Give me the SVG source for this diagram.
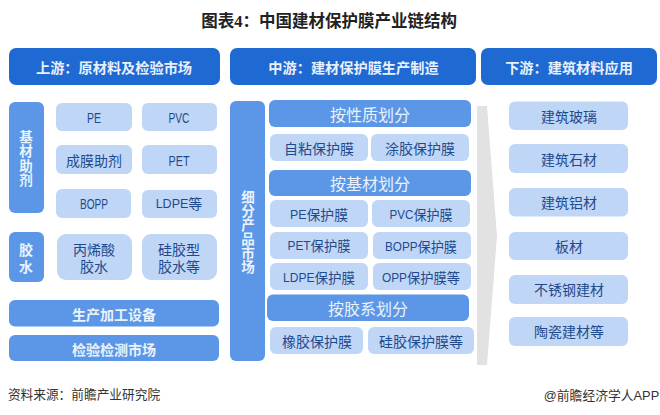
<svg xmlns="http://www.w3.org/2000/svg" width="660" height="415" viewBox="0 0 660 415">
<style>
text{font-family:"Liberation Sans","Noto Sans CJK SC",sans-serif;text-anchor:middle;dominant-baseline:central}
.h rect{fill:#1f69d3}.h text{fill:#e8f0fb;font-size:14.200px;font-weight:700}
.m rect{fill:#5b97e6}.m text{fill:#eaf2fc;font-size:14px;font-weight:700}
.m .v{font-size:13.500px}
.s rect{fill:#5b97e6}.s text{fill:#eaf2fc;font-size:16px}
.l rect{fill:#bfd6f6}.l text{fill:#1f4a8c;font-size:14px}
.l tspan{font-size:12.500px}
</style>
<rect width="660" height="415" fill="#fff"/>
<text id="title" x="329" y="21" style="font-size:16.500px;font-weight:700;fill:#222">图表<tspan style="font-family:'Liberation Serif',serif">4</tspan>：中国建材保护膜产业链结构</text>
<g id="h1" class="h"><rect x="9" y="48" width="211" height="37" rx="7"/><text x="114" y="68">上游：原材料及检验市场</text></g>
<g id="h2" class="h"><rect x="230" y="48" width="246" height="37" rx="7"/><text x="353.500" y="68">中游：建材保护膜生产制造</text></g>
<g id="h3" class="h"><rect x="481" y="48" width="176" height="37" rx="7"/><text x="569" y="68">下游：建筑材料应用</text></g>
<g id="connectors"><polygon points="477,106 487,106 497,236 487,365 477,365" fill="#e2e2e2"/></g>
<g id="n-jicai" class="m"><rect x="9" y="102" width="35" height="111" rx="6"/><text class="v" x="26" y="137">基</text><text class="v" x="26" y="151.500">材</text><text class="v" x="26" y="166">助</text><text class="v" x="26" y="180.500">剂</text></g>
<g id="n-jiaoshui" class="m"><rect x="9" y="232" width="35" height="50" rx="6"/><text x="26" y="250">胶</text><text x="26" y="267">水</text></g>
<g id="n-pe" class="l"><rect x="56" y="103" width="76" height="28" rx="6"/><text x="94" y="118" textLength="14" lengthAdjust="spacingAndGlyphs">PE</text></g>
<g id="n-pvc" class="l"><rect x="142" y="103" width="75" height="28" rx="6"/><text x="179" y="118" textLength="21" lengthAdjust="spacingAndGlyphs">PVC</text></g>
<g id="n-cm" class="l"><rect x="56" y="145" width="76" height="29" rx="6"/><text x="94" y="161">成膜助剂</text></g>
<g id="n-pet" class="l"><rect x="142" y="145" width="75" height="29" rx="6"/><text x="179" y="161" textLength="21" lengthAdjust="spacingAndGlyphs">PET</text></g>
<g id="n-bopp" class="l"><rect x="56" y="189" width="75" height="29" rx="6"/><text x="94" y="204" textLength="28" lengthAdjust="spacingAndGlyphs">BOPP</text></g>
<g id="n-ldpe" class="l"><rect x="142" y="190" width="75" height="28" rx="6"/><text x="179" y="204"><tspan>LDPE</tspan>等</text></g>
<g id="n-bxs" class="l"><rect x="57" y="234" width="75" height="46" rx="9"/><text x="94" y="250">丙烯酸</text><text x="94" y="267">胶水</text></g>
<g id="n-gjx" class="l"><rect x="142" y="234" width="75" height="46" rx="9"/><text x="179" y="250">硅胶型</text><text x="179" y="267">胶水等</text></g>
<g id="n-sb" class="m"><rect x="9" y="300" width="210" height="26.500" rx="6"/><text x="114" y="315">生产加工设备</text></g>
<g id="n-jy" class="m"><rect x="9" y="335" width="210" height="26" rx="6"/><text x="114" y="350">检验检测市场</text></g>
<g id="n-xf" class="m"><rect x="230" y="101" width="35" height="260" rx="6"/><text class="v" x="248" y="197">细</text><text class="v" x="248" y="211">分</text><text class="v" x="248" y="225">产</text><text class="v" x="248" y="239">品</text><text class="v" x="248" y="253">市</text><text class="v" x="248" y="267">场</text></g>
<g id="n-a" class="s"><rect x="269" y="100" width="202" height="27" rx="6"/><text x="370" y="115">按性质划分</text></g>
<g id="n-zn" class="l"><rect x="270" y="134" width="98" height="27" rx="6"/><text x="319" y="149">自粘保护膜</text></g>
<g id="n-tj" class="l"><rect x="371" y="134" width="98" height="27" rx="6"/><text x="420" y="149">涂胶保护膜</text></g>
<g id="n-b" class="s"><rect x="269" y="170" width="202" height="26" rx="6"/><text x="370" y="184">按基材划分</text></g>
<g id="n-pe2" class="l"><rect x="270" y="200" width="98" height="27" rx="6"/><text x="319" y="215" textLength="58" lengthAdjust="spacingAndGlyphs"><tspan>PE</tspan>保护膜</text></g>
<g id="n-pvc2" class="l"><rect x="372" y="200" width="98" height="27" rx="6"/><text x="421" y="215" textLength="63" lengthAdjust="spacingAndGlyphs"><tspan>PVC</tspan>保护膜</text></g>
<g id="n-pet2" class="l"><rect x="270" y="232" width="98" height="27" rx="6"/><text x="319" y="246" textLength="63" lengthAdjust="spacingAndGlyphs"><tspan>PET</tspan>保护膜</text></g>
<g id="n-bopp2" class="l"><rect x="373" y="232" width="98" height="27" rx="6"/><text x="421" y="247" textLength="72" lengthAdjust="spacingAndGlyphs"><tspan>BOPP</tspan>保护膜</text></g>
<g id="n-ldpe2" class="l"><rect x="270" y="263" width="98" height="27" rx="6"/><text x="319" y="278" textLength="72" lengthAdjust="spacingAndGlyphs"><tspan>LDPE</tspan>保护膜</text></g>
<g id="n-opp2" class="l"><rect x="373" y="263" width="98" height="27" rx="6"/><text x="421" y="278" textLength="78" lengthAdjust="spacingAndGlyphs"><tspan>OPP</tspan>保护膜等</text></g>
<g id="n-c" class="s"><rect x="267" y="294.500" width="202" height="26.500" rx="6"/><text x="368" y="309">按胶系划分</text></g>
<g id="n-xj" class="l"><rect x="270" y="327" width="93" height="27" rx="6"/><text x="317" y="342">橡胶保护膜</text></g>
<g id="n-gj" class="l"><rect x="368" y="327" width="106" height="27" rx="6"/><text x="421" y="342">硅胶保护膜等</text></g>
<g id="r1" class="l"><rect x="509" y="101.500" width="119" height="28.500" rx="6"/><text x="569" y="117">建筑玻璃</text></g>
<g id="r2" class="l"><rect x="509" y="144" width="119" height="29" rx="6"/><text x="569" y="160">建筑石材</text></g>
<g id="r3" class="l"><rect x="509" y="188" width="119" height="28.500" rx="6"/><text x="569" y="203">建筑铝材</text></g>
<g id="r4" class="l"><rect x="509" y="232" width="119" height="28" rx="6"/><text x="569" y="247">板材</text></g>
<g id="r5" class="l"><rect x="509" y="275" width="119" height="29" rx="6"/><text x="569" y="290">不锈钢建材</text></g>
<g id="r6" class="l"><rect x="509" y="317" width="119" height="29" rx="6"/><text x="569" y="332">陶瓷建材等</text></g>
<text x="84" y="395" style="font-size:12.700px;fill:#333">资料来源：前瞻产业研究院</text>
<text x="601.500" y="395" style="font-size:12.800px;fill:#333">@前瞻经济学人APP</text>
</svg>
